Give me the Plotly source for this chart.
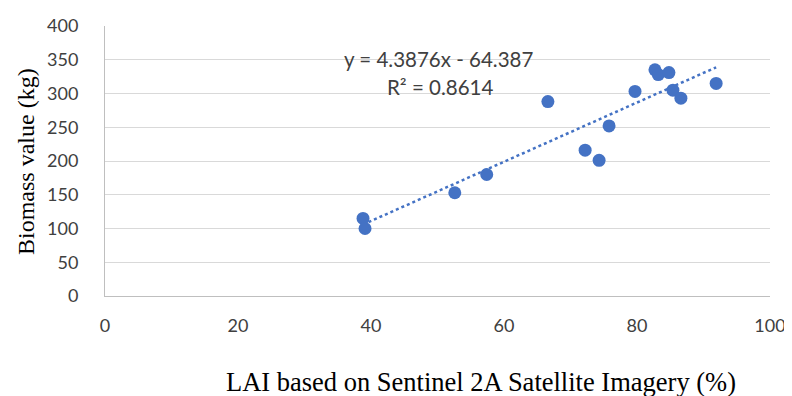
import plotly.graph_objects as go

lai = [38.8, 39.1, 52.6, 57.4, 66.6, 72.2, 74.3, 75.8, 79.7, 82.7, 83.2, 84.8, 85.4, 86.6, 91.9]
biomass = [115, 100, 153, 180, 288, 216, 201, 252, 303, 335, 328, 331, 305, 293, 315]

slope = 4.3876
intercept = -64.387
eq_text = "y = 4.3876x - 64.387"
r2_text = "R² = 0.8614"

x_ticks = [0, 20, 40, 60, 80, 100]
y_ticks = [0, 50, 100, 150, 200, 250, 300, 350, 400]

color = "#4472C4"

tx = [min(lai), max(lai)]
ty = [slope * v + intercept for v in tx]

# page body has an 8px margin, so the figure is sized to the visible area
OFF = 8
W, H = 792 - OFF, 396 - OFF
l, r, t, b = 97, 22, 18, 100

fig = go.Figure()
fig.add_trace(go.Scatter(x=tx, y=ty, mode="lines",
                         line=dict(color=color, width=2.5, dash="dot"),
                         hoverinfo="skip", showlegend=False))
fig.add_trace(go.Scatter(x=lai, y=biomass, mode="markers",
                         marker=dict(color=color, size=13),
                         showlegend=False))

fig.update_layout(
    width=W, height=H,
    margin=dict(l=l, r=r, t=t, b=b, autoexpand=False),
    plot_bgcolor="white", paper_bgcolor="white",
    font=dict(family="Lato", size=18, color="#404040"),
    xaxis=dict(range=[0, 100], tickvals=x_ticks, showgrid=False,
               showline=True, linecolor="#bfbfbf", linewidth=1,
               zeroline=False, ticks="", ticklabelstandoff=13, automargin=False,
               tickfont=dict(family="Lato", size=18, color="#404040")),
    yaxis=dict(range=[0, 400], tickvals=y_ticks, showgrid=True,
               gridcolor="#d9d9d9", gridwidth=1,
               showline=True, linecolor="#bfbfbf", linewidth=1,
               zeroline=False, ticks="", ticklabelstandoff=22, automargin=False,
               tickfont=dict(family="Lato", size=18, color="#404040")),
)

pw, ph = W - l - r, H - t - b
def px_to_paper(px, py):
    # px, py are screenshot pixel positions
    fx, fy = px - OFF, py - OFF
    return (fx - l) / pw, (H - b - fy) / ph

anns = []
for text, px, py, fam, size, col, ang in [
    (eq_text, 438, 59, "Lato", 20.5, "#404040", 0),
    (r2_text, 440, 87, "Lato", 20.5, "#404040", 0),
    ("LAI based on Sentinel 2A Satellite Imagery (%)", 481, 382, "Liberation Serif", 26.5, "#000000", 0),
    ("Biomass value (kg)", 26, 162, "Liberation Serif", 24, "#000000", -90),
]:
    xp, yp = px_to_paper(px, py)
    anns.append(dict(text=text, x=xp, y=yp, xref="paper", yref="paper", showarrow=False,
                     xanchor="center", yanchor="middle", textangle=ang,
                     font=dict(family=fam, size=size, color=col)))
fig.update_layout(annotations=anns)

fig.write_html("out.html")
